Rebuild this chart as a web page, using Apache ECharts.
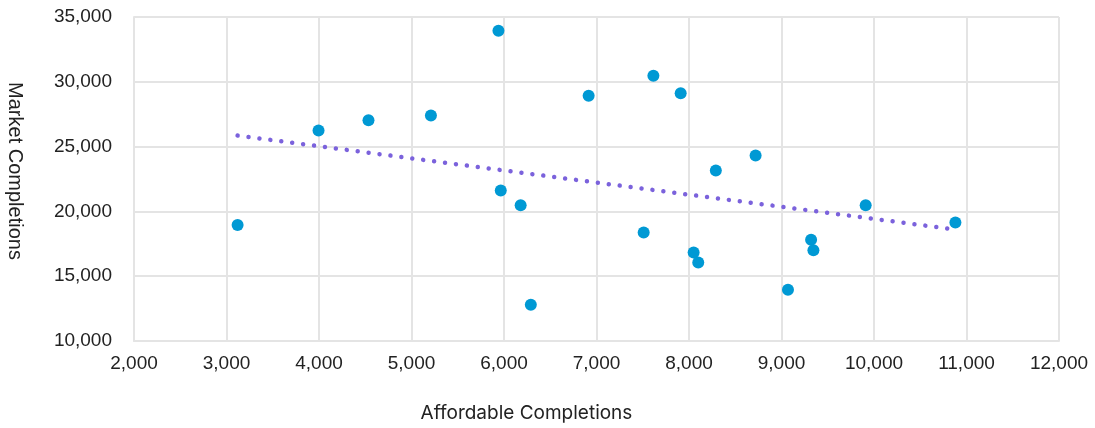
<!DOCTYPE html>
<html>
<head>
<meta charset="utf-8">
<script src="https://cdn.jsdelivr.net/npm/echarts@6/dist/echarts.min.js"></script>
<style>
html,body{margin:0;padding:0;background:#fff;}
#chart{width:1095px;height:428px;}
</style>
</head>
<body>
<div id="chart"></div>
<script>
var affordable = [3120, 3995, 4535, 5210, 5940, 6915, 7615, 7910, 5965, 6180, 6290, 7510, 8050, 8100, 8290, 8720, 9070, 9320, 9345, 9910, 10880];
var market     = [18950, 26240, 27040, 27400, 33930, 28930, 30470, 29120, 21620, 20470, 12800, 18370, 16830, 16060, 23160, 24320, 13960, 17810, 17010, 20470, 19140];
var trendX = [3120, 10880];
var trendY = [25850, 18600];
var xTitle = 'Affordable Completions';
var yTitle = 'Market Completions';

var points = affordable.map(function (x, i) { return [x, market[i]]; });
var trend = trendX.map(function (x, i) { return [x, trendY[i]]; });
var gridColor = '#E4E4E4';
var fmt = function (v) { return v.toLocaleString('en-US'); };

var chart = echarts.init(document.getElementById('chart'), null, {renderer: 'canvas'});
chart.setOption({
  animation: false,
  grid: {left: 134, right: 36, top: 17, bottom: 87, containLabel: false, outerBoundsMode: 'none'},
  xAxis: {
    type: 'value', min: 2000, max: 12000, interval: 1000,
    name: xTitle, nameLocation: 'middle', nameGap: 63,
    nameTextStyle: {fontFamily: 'Inter', fontSize: 19, color: '#222', padding: [0, 140, 0, 0]},
    axisLine: {show: true, lineStyle: {color: gridColor, width: 2}},
    axisTick: {show: false},
    axisLabel: {formatter: fmt, fontFamily: 'Liberation Sans', fontSize: 19, color: '#222', margin: 13},
    splitLine: {show: true, lineStyle: {color: gridColor, width: 2}}
  },
  yAxis: {
    type: 'value', min: 10000, max: 35000, interval: 5000,
    name: yTitle, nameLocation: 'middle', nameGap: 109, nameRotate: -90,
    nameTextStyle: {fontFamily: 'Liberation Sans', fontSize: 20, color: '#222', padding: [0, 16, 0, 0]},
    axisLine: {show: true, lineStyle: {color: gridColor, width: 2}},
    axisTick: {show: false},
    axisLabel: {formatter: fmt, fontFamily: 'Liberation Sans', fontSize: 19, color: '#222', margin: 22},
    splitLine: {show: true, lineStyle: {color: gridColor, width: 2}}
  },
  series: [
    {
      type: 'line', data: trend, symbol: 'none', z: 2,
      lineStyle: {color: '#7B62DC', width: 4.5, type: [0.01, 11], cap: 'round'}
    },
    {
      type: 'scatter', data: points, symbolSize: 12, z: 3,
      itemStyle: {color: '#0099D4', opacity: 1}
    }
  ]
});
</script>
</body>
</html>
